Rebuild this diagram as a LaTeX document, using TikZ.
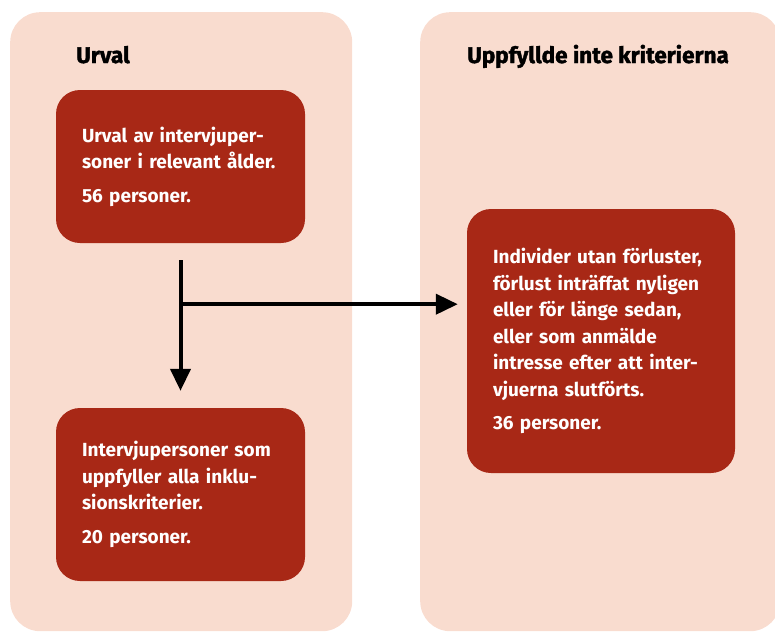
\documentclass[tikz,border=0pt]{standalone}
\usepackage{fontspec}
\setmainfont{Fira Sans}
\newfontfamily\headfont{Fira Sans}[BoldFeatures={FakeBold=1.6}]
\usetikzlibrary{arrows.meta,positioning}
\definecolor{panelpink}{HTML}{F9DCCF}
\definecolor{boxred}{HTML}{A82816}
\begin{document}
\begin{tikzpicture}[x=1pt,y=-1pt]
	\tikzstyle{panel}=[fill=panelpink,rounded corners=30pt,inner sep=0,anchor=north west,minimum height=619pt]
	\tikzstyle{count box}=[fill=boxred,rounded corners=24pt,text=white,align=left,inner xsep=26pt,inner ysep=0,
		font=\bfseries\fontsize{19}{26.5}\selectfont]
	\tikzstyle{heading}=[anchor=base west,inner sep=0,font=\headfont\bfseries\fontsize{22.5}{26}\selectfont]
	\tikzstyle{flow}=[line width=4pt,-{Triangle[length=22pt,width=20pt]}]
	\useasboundingbox(0,0)rectangle(775,632);
	% panels
	\node(left)[panel,minimum width=342pt] at (10,12){};
	\node(right)[panel,minimum width=360pt] at (420,12){};
	\node(urval)[heading] at (76,63){Urval};
	\node(notmet)[heading] at (467,63){Uppfyllde inte kriterierna};
	% boxes
	\node(sample)[count box,text width=197pt,minimum height=153pt] at (180.5,166.5)
		{Urval av intervjuper-\\soner i relevant ålder.\\[7pt]56 personer.};
	\node(included)[count box,text width=197pt,minimum height=173pt] at (180.5,494.5)
		{Intervjupersoner som\\uppfyller alla inklu-\\sionskriterier.\\[7pt]20 personer.};
	\node(excluded)[count box,text width=216pt,minimum height=264pt] at (601,341)
		{Individer utan förluster,\\förlust inträffat nyligen\\eller för länge sedan,\\eller som anmälde\\intresse efter att inter-\\vjuerna slutförts.\\[7pt]36 personer.};
	% arrows
	\coordinate[below=61pt of sample](split);
	\draw[flow,shorten <=17pt,shorten >=17pt](sample)--(included);
	\draw[flow,shorten >=9pt](split)--(split-|excluded.west);
\end{tikzpicture}
\end{document}
